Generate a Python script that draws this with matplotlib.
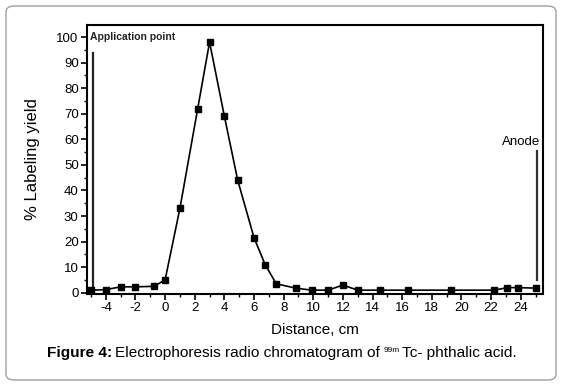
import numpy as np
import matplotlib
matplotlib.use("Agg")
import matplotlib.pyplot as plt
from matplotlib.patches import FancyBboxPatch
from matplotlib.ticker import MultipleLocator

plt.rcParams['font.family'] = ['Liberation Sans', 'DejaVu Sans']
plt.rcParams['axes.unicode_minus'] = False

# readings
distance = [-5.0, -4.0, -3.0, -2.0, -0.75, 0.0, 1.0, 2.2, 3.0, 4.0, 4.9, 6.0,
            6.75, 7.5, 8.8, 9.9, 11.0, 12.0, 13.0, 14.5, 16.4, 19.3, 22.2,
            23.1, 23.8, 25.0]
yield_pct = [1.0, 1.2, 2.3, 2.3, 2.5, 5.0, 33.0, 72.0, 98.0, 69.0, 44.0, 21.5,
             11.0, 3.5, 1.8, 1.0, 1.0, 3.0, 1.0, 1.0, 1.0, 1.0, 1.0,
             2.0, 2.0, 1.8]

app_x, app_y = -4.88, (2.7, 93.8)
anode_x, anode_y = 25.1, (4.8, 55.4)

fig = plt.figure(figsize=(5.63, 3.86), dpi=100)

# rounded frame around the figure
frame = FancyBboxPatch((6 / 563, 6 / 386), 550 / 563, 374 / 386,
                       boxstyle="round,pad=0,rounding_size=0.015",
                       transform=fig.transFigure, facecolor='none',
                       edgecolor='#a0a0a0', lw=1.0, zorder=-1)
fig.patches.append(frame)

ax = fig.add_axes([87 / 563, 1 - 294 / 386, 456 / 563, 269 / 386])
ax.set_facecolor('none')

ax.plot(distance, yield_pct, color='black', lw=1.2, marker='s', ms=4.5,
        clip_on=False, zorder=3)
ax.plot([app_x, app_x], app_y, color='#222222', lw=1.6)
ax.plot([anode_x, anode_x], anode_y, color='#333333', lw=1.6)

ax.text(-5.05, 100, "Application point", fontsize=7.5, fontweight='bold',
        va='center', ha='left', color='#222222')
ax.text(25.3, 59, "Anode", fontsize=9.5, ha='right', va='center')

ax.set_xlim(-5.27, 25.5)
ax.set_ylim(-0.5, 104.7)
ax.xaxis.set_major_locator(MultipleLocator(2))
ax.xaxis.set_minor_locator(MultipleLocator(1))
ax.yaxis.set_major_locator(MultipleLocator(10))
ax.yaxis.set_minor_locator(MultipleLocator(5))
ax.tick_params(which='major', direction='out', length=4, width=1.2, labelsize=9.5, pad=2)
ax.tick_params(which='minor', direction='out', length=2.5, width=1.0)
ax.set_xticks([-4, -2, 0, 2, 4, 6, 8, 10, 12, 14, 16, 18, 20, 22, 24])
for s in ax.spines.values():
    s.set_linewidth(1.5)

ax.set_xlabel("Distance, cm", fontsize=11, labelpad=6)
ax.set_ylabel("% Labeling yield", fontsize=12, labelpad=12)

# caption built from pieces
fig.canvas.draw()
r = fig.canvas.get_renderer()
y_cap = 1 - 357 / 386
x0 = 47 / 563
t1 = fig.text(x0, y_cap, "Figure 4:", fontsize=11.1, fontweight='bold', va='baseline')
ext = t1.get_window_extent(r)
t2 = fig.text(ext.x1 / 563 + 3 / 563, y_cap, "Electrophoresis radio chromatogram of",
              fontsize=11.1, va='baseline')
ext = t2.get_window_extent(r)
t3 = fig.text(ext.x1 / 563 + 4 / 563, y_cap + 5 / 386, "99m", fontsize=6, va='baseline')
ext = t3.get_window_extent(r)
fig.text(ext.x1 / 563 + 2 / 563, y_cap, "Tc- phthalic acid.", fontsize=11.1, va='baseline')

fig.savefig("out.png", dpi=100)
